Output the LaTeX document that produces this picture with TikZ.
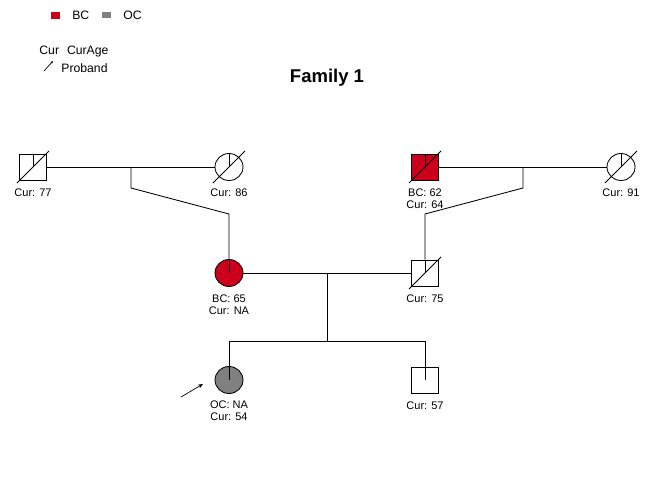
\documentclass[tikz,border=0pt]{standalone}
\usepackage{fontspec}
\setmainfont{Liberation Sans}
\usetikzlibrary{arrows.meta, calc, positioning, shapes.geometric}
\definecolor{bcred}{RGB}{205,0,28}
\definecolor{ocgray}{RGB}{128,128,128}

\begin{document}
\begin{tikzpicture}[x=1pt, y=-1pt, line width=0.85pt,
    male/.style={draw, rectangle, minimum width=27pt, minimum height=26pt, inner sep=0pt},
    female/.style={draw, ellipse, minimum width=28pt, minimum height=27pt, inner sep=0pt},
    lbl/.style={font=\fontsize{11}{12}\selectfont, align=center, inner sep=0pt},
    lgd/.style={font=\fontsize{12.2}{13}\selectfont, inner sep=0pt, anchor=west}]
        \useasboundingbox (0,0) rectangle (653,490);

        % Legend
        \node[fill=bcred, minimum width=9pt, minimum height=7pt, inner sep=0pt] (kbc) at (55,15) {};
        \node[lgd, right=12pt of kbc] (tbc) {BC};
        \node[fill=ocgray, minimum width=9pt, minimum height=6pt, inner sep=0pt] (koc) at (106,15) {};
        \node[lgd, right=12pt of koc] (toc) {OC};
        \node[lgd] (tcur) at (39,52) {Cur\hspace{8pt}CurAge};
        \node[lgd] (tpro) at (61,68) {Proband};
        \coordinate (ka) at (44,71);
        \coordinate (kb) at (53,61);
        \draw[-{Stealth[length=3pt, width=2.5pt]}, line width=0.7pt] (ka) -- (kb);

        % Title
        \node[font=\bfseries\fontsize{18.5}{20}\selectfont] (title) at (327,78) {Family 1};

        % Generation 1
        \node[male] (p77) at (33,167) {};
        \node[female] (p86) at (229,167) {};
        \node[male, fill=bcred] (p64) at (425,167) {};
        \node[female] (p91) at (621,167) {};

        % Generation 2
        \node[female, fill=bcred] (p65) at (229,273) {};
        \node[male] (p75) at (425,273) {};

        % Generation 3
        \node[female, fill=ocgray] (p54) at (229,380) {};
        \node[male] (p57) at (425,380) {};

        % Marriage lines and descent
        \draw (p77) -- (p86);
        \draw (p64) -- (p91);
        \draw (p65) -- (p75);
        \coordinate (m1) at ($(p77)!0.5!(p86)$);
        \coordinate (m2) at ($(p64)!0.5!(p91)$);
        \coordinate (m3) at ($(p65)!0.5!(p75)$);
        \draw (m1) -- ++(0,21) -- (229,214) -- (p65.north);
        \draw (m2) -- ++(0,21) -- (425,214) -- (p75.north);
        \draw (m3) -- ++(0,68) coordinate (s1);
        \draw (s1 -| p54) -- (s1 -| p57);
        \draw (s1 -| p54) -- (p54.north);
        \draw (s1 -| p57) -- (p57.north);

        % Segment lines inside each symbol
        \foreach \p in {p77,p86,p64,p91,p65,p75,p54,p57}
            \draw (\p.north) -- (\p.center);

        % Deceased
        \foreach \p in {p77,p86,p64,p91,p75}
            \draw ($(\p.center)+(-16,16)$) -- ($(\p.center)+(16,-16)$);

        % Proband arrow
        \coordinate (pa) at (181,397);
        \coordinate (pb) at (203,384);
        \draw[-{Stealth[length=5pt, width=4pt]}, line width=0.7pt] (pa) -- (pb);

        % Labels
        \node[lbl, below=7.5pt of p77] {Cur: 77};
        \node[lbl, below=7.5pt of p86] {Cur: 86};
        \node[lbl, below=7.5pt of p64] {BC: 62\\Cur: 64};
        \node[lbl, below=7.5pt of p91] {Cur: 91};
        \node[lbl, below=7pt of p65] {BC: 65\\Cur: NA};
        \node[lbl, below=7.5pt of p75] {Cur: 75};
        \node[lbl, below=6pt of p54] {OC: NA\\Cur: 54};
        \node[lbl, below=7.5pt of p57] {Cur: 57};
\end{tikzpicture}
\end{document}
